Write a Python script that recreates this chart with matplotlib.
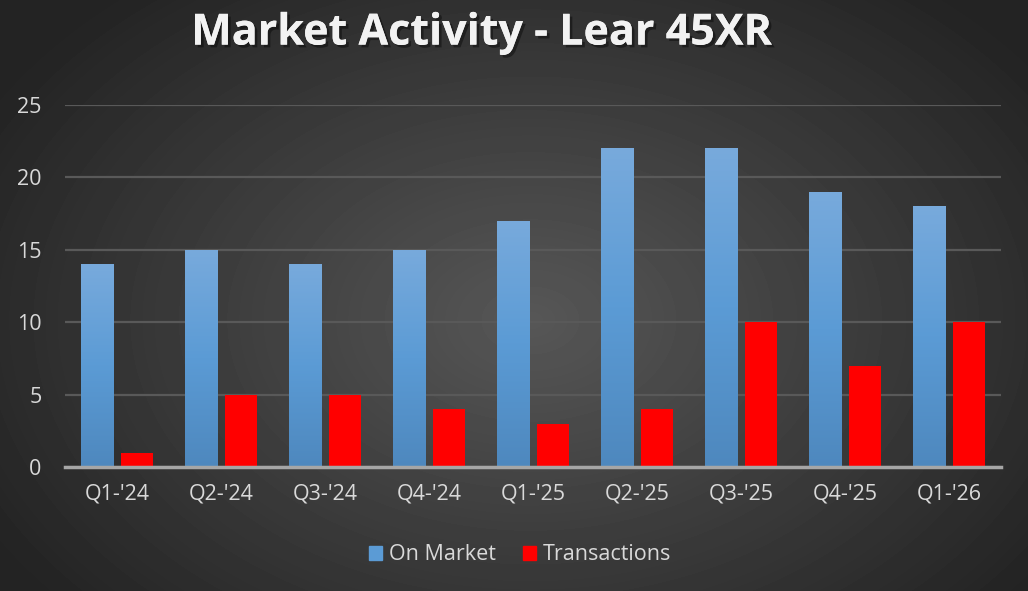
import numpy as np
import matplotlib.pyplot as plt
import matplotlib.patheffects as pe
from matplotlib.patches import Patch
from matplotlib.colors import LinearSegmentedColormap

quarters = ["Q1-'24", "Q2-'24", "Q3-'24", "Q4-'24", "Q1-'25", "Q2-'25", "Q3-'25", "Q4-'25", "Q1-'26"]
on_market = [14, 15, 14, 15, 17, 22, 22, 19, 18]
transactions = [1, 5, 5, 4, 3, 4, 10, 7, 10]

plt.rcParams["font.family"] = ["Open Sans", "DejaVu Sans"]

fig = plt.figure(figsize=(10.28, 5.91), dpi=100)

# radial background
bg = fig.add_axes([0, 0, 1, 1], zorder=0)
yy, xx = np.mgrid[0:591, 0:1028]
r = np.sqrt(((xx - 530) / 620.0) ** 2 + ((yy - 320) / 430.0) ** 2)
shade = np.clip(0.34 - 0.20 * r, 0.14, 0.34)
bg.imshow(shade, cmap="gray", vmin=0, vmax=1, aspect="auto", extent=[0, 1, 0, 1])
bg.axis("off")

ax = fig.add_axes([65 / 1028, 1 - 467 / 591, 936 / 1028, 362 / 591], zorder=1)
ax.patch.set_alpha(0)

x = np.arange(len(quarters))
w = 0.31
blue_bars = ax.bar(x - 0.19, on_market, w, color="#5B9BD5", zorder=2)
red_bars = ax.bar(x + 0.19, transactions, w, color="#FF0000", zorder=2)

# vertical gradient on blue bars
grad = np.linspace(0, 1, 256).reshape(-1, 1)
bcmap = LinearSegmentedColormap.from_list("b", ["#4E88BE", "#5B9BD5", "#78AADC"])
for b in blue_bars:
    x0, h = b.get_x(), b.get_height()
    im = ax.imshow(grad, cmap=bcmap, aspect="auto", origin="lower",
                   extent=[x0, x0 + w, 0, h], zorder=2.1)
    im.set_clip_path(b)

ax.set_xlim(-0.5, len(quarters) - 0.5)
ax.set_ylim(0, 25)
ax.set_yticks(np.arange(0, 26, 5))
ax.set_xticks(x)
ax.set_xticklabels(quarters)
ax.grid(axis="y", color="#595959", linewidth=1.6, zorder=0)
ax.set_axisbelow(True)
for s in ["top", "right", "left"]:
    ax.spines[s].set_visible(False)
ax.spines["bottom"].set_color("#A6A6A6")
ax.spines["bottom"].set_linewidth(2.5)
ax.spines["bottom"].set_zorder(3)
ax.tick_params(axis="both", length=0, colors="#D9D9D9", labelsize=15.5)
ax.tick_params(axis="x", pad=12)
ax.tick_params(axis="y", pad=17)

fig.text(0.468, 0.944, "Market Activity - Lear 45XR", ha="center", va="center",
         fontsize=31, fontweight="bold", color="#F2F2F2",
         path_effects=[pe.withSimplePatchShadow(offset=(2, -2), shadow_rgbFace="black", alpha=0.4),
                       pe.Normal()])

handles = [Patch(color="#5B9BD5", label="On Market"), Patch(color="#FF0000", label="Transactions")]
fig.legend(handles=handles, loc="center", bbox_to_anchor=(0.506, 0.061), ncol=2, frameon=False,
           fontsize=15.5, labelcolor="#D9D9D9", handlelength=0.6, handleheight=0.6,
           handletextpad=0.3, columnspacing=1.3)

fig.savefig("out.png", dpi=100)
